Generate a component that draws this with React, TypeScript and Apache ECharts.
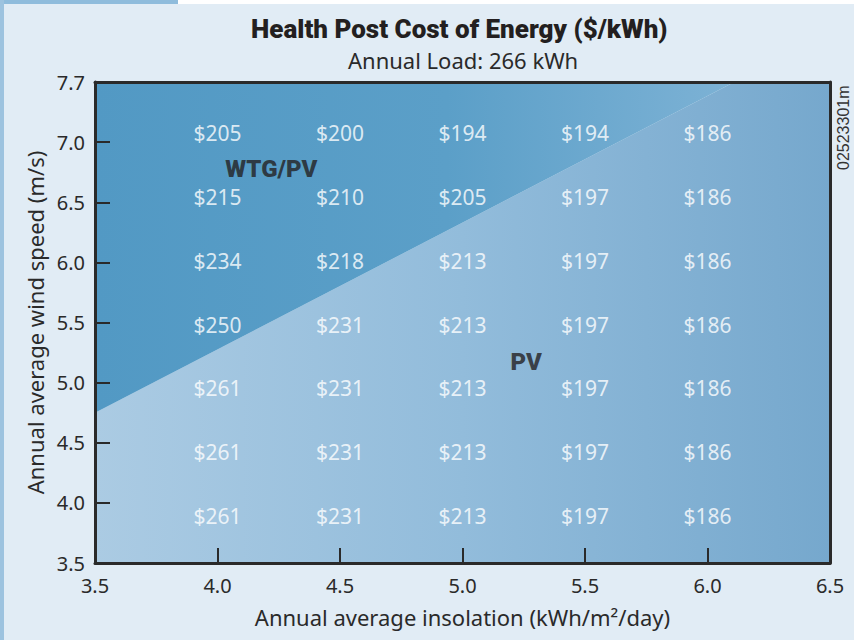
import React, { useEffect, useRef } from "react";
import * as echarts from "echarts";

const insolation = [4.0, 4.5, 5.0, 5.5, 6.0];
const windSpeed = [7.0, 6.5, 6.0, 5.5, 5.0, 4.5, 4.0];
const costs = [
  [205, 200, 194, 194, 186],
  [215, 210, 205, 197, 186],
  [234, 218, 213, 197, 186],
  [250, 231, 213, 197, 186],
  [261, 231, 213, 197, 186],
  [261, 231, 213, 197, 186],
  [261, 231, 213, 197, 186],
];
const xTickLabels = ["3.5", "4.0", "4.5", "5.0", "5.5", "6.0", "6.5"];
const yTickLabels = ["3.5", "4.0", "4.5", "5.0", "5.5", "6.0", "6.5", "7.0", "7.7"];
const boundaryInsolation = [3.5, 6.11];
const boundaryWind = [4.75, 7.5];
const regionLabels = ["WTG/PV", "PV"];
const regionLabelX = [4.22, 5.26];
const regionLabelY = [6.775, 5.17];

const X0 = 3.5, X1 = 6.5, Y0 = 3.5, Y1 = 7.5;
const DARK = "#2a2a2a";
const FONT = "'Noto Sans', sans-serif";

export default function App() {
  const ref = useRef<HTMLDivElement>(null);
  useEffect(() => {
    document.body.style.margin = "0";
    const chart = echarts.init(ref.current!, null, { renderer: "svg" });

    const cellData: any[] = [];
    windSpeed.forEach((w, r) =>
      insolation.forEach((x, c) => cellData.push([x, w, costs[r][c]]))
    );
    const regionData = regionLabels.map((n, i) => ({
      value: [regionLabelX[i], regionLabelY[i]],
      name: n,
    }));

    const axisLineStyle = { show: true, lineStyle: { color: DARK, width: 3 } };

    chart.setOption({
      animation: false,
      backgroundColor: "#e1ecf5",
      title: [
        {
          text: "Health Post Cost of Energy ($/kWh)",
          left: 246,
          top: 11,
          textStyle: { fontFamily: "Roboto, sans-serif", fontWeight: 900, fontSize: 26, color: "#231f20" },
        },
        {
          text: "Annual Load: 266 kWh",
          left: 343,
          top: 44,
          textStyle: { fontFamily: FONT, fontWeight: "normal", fontSize: 22, color: DARK },
        },
      ],
      graphic: [
        { type: "rect", left: 0, top: 0, shape: { width: 854, height: 4 }, style: { fill: "#ffffff" }, z: 100 },
        { type: "rect", left: 0, top: 0, shape: { width: 178, height: 4 }, style: { fill: "#8fbcdc" }, z: 101 },
        { type: "rect", left: 0, top: 0, shape: { width: 4, height: 640 }, style: { fill: "#9dc3df" }, z: 101 },
        {
          type: "text",
          x: 835,
          y: 170,
          rotation: Math.PI / 2,
          style: { text: "02523301m", fontSize: 16, fontFamily: "'Liberation Sans', Arial, sans-serif", fill: "#333" },
        },
      ],
      grid: { left: 95, right: 24, top: 82, bottom: 77 },
      xAxis: [
        {
          type: "value",
          min: X0,
          max: X1,
          interval: 0.5,
          z: 10,
          name: "Annual average insolation (kWh/m²/day)",
          nameLocation: "middle",
          nameGap: 43,
          nameTextStyle: { fontFamily: FONT, fontSize: 22, color: DARK },
          axisLine: axisLineStyle,
          axisTick: { show: true, inside: true, length: 15, lineStyle: { color: DARK, width: 2 } },
          axisLabel: {
            margin: 12,
            fontFamily: FONT,
            fontSize: 20,
            color: DARK,
            formatter: (v: number) => xTickLabels[Math.round((v - X0) / 0.5)] ?? "",
          },
          splitLine: { show: false },
        },
        {
          type: "value",
          position: "top",
          min: X0,
          max: X1,
          z: 10,
          axisLine: axisLineStyle,
          axisTick: { show: false },
          axisLabel: { show: false },
          splitLine: { show: false },
        },
      ],
      yAxis: [
        {
          type: "value",
          min: Y0,
          max: Y1,
          interval: 0.5,
          z: 10,
          name: "Annual average wind speed (m/s)",
          nameLocation: "middle",
          nameGap: 46,
          nameTextStyle: { fontFamily: FONT, fontSize: 22, color: DARK },
          axisLine: axisLineStyle,
          axisTick: { show: true, inside: true, length: 15, lineStyle: { color: DARK, width: 2 } },
          axisLabel: {
            margin: 10,
            fontFamily: FONT,
            fontSize: 20,
            color: DARK,
            formatter: (v: number) => yTickLabels[Math.round((v - Y0) / 0.5)] ?? "",
          },
          splitLine: { show: false },
        },
        {
          type: "value",
          position: "right",
          min: 3.632,
          max: 7.4,
          z: 10,
          axisLine: axisLineStyle,
          axisTick: { show: false },
          axisLabel: { show: false },
          splitLine: { show: false },
        },
      ],
      series: [
        {
          type: "custom",
          xAxisIndex: 0,
          yAxisIndex: 0,
          clip: false,
          silent: true,
          z: 1,
          data: [[X0, Y0]],
          renderItem: (_params: any, api: any) => {
            const p = (x: number, y: number) => api.coord([x, y]);
            const upper = [
              p(boundaryInsolation[0], boundaryWind[0]),
              p(boundaryInsolation[1], boundaryWind[1]),
              p(X0, Y1),
            ];
            const lower = [
              p(X0, Y0),
              p(X1, Y0),
              p(X1, Y1),
              p(boundaryInsolation[1], boundaryWind[1]),
              p(boundaryInsolation[0], boundaryWind[0]),
            ];
            return {
              type: "group",
              children: [
                {
                  type: "polygon",
                  shape: { points: lower },
                  style: {
                    fill: {
                      type: "linear", x: 0, y: 0, x2: 1, y2: 0,
                      colorStops: [
                        { offset: 0, color: "#abcbe3" },
                        { offset: 0.5, color: "#92bcdb" },
                        { offset: 1, color: "#76a8cd" },
                      ],
                    },
                  },
                },
                {
                  type: "polygon",
                  shape: { points: upper },
                  style: {
                    fill: {
                      type: "linear", x: 0, y: 0, x2: 1, y2: 0,
                      colorStops: [
                        { offset: 0, color: "#5299c4" },
                        { offset: 0.55, color: "#5b9fc8" },
                        { offset: 1, color: "#7db2d5" },
                      ],
                    },
                  },
                },
              ],
            };
          },
        },
        {
          type: "scatter",
          xAxisIndex: 0,
          yAxisIndex: 1,
          symbolSize: 0,
          silent: true,
          z: 5,
          data: cellData,
          label: {
            show: true,
            position: "inside",
            color: "#ffffff",
            fontFamily: FONT,
            fontSize: 21,
            formatter: (p: any) => "$" + p.value[2],
          },
        },
        {
          type: "scatter",
          xAxisIndex: 0,
          yAxisIndex: 0,
          symbolSize: 0,
          silent: true,
          z: 5,
          data: regionData,
          label: {
            show: true,
            position: "inside",
            color: "#231f20",
            fontFamily: "Roboto, sans-serif",
            fontWeight: 900,
            fontSize: 24,
            formatter: (p: any) => p.name,
          },
        },
      ],
    });
    return () => chart.dispose();
  }, []);
  return <div ref={ref} style={{ width: 854, height: 640 }} />;
}
